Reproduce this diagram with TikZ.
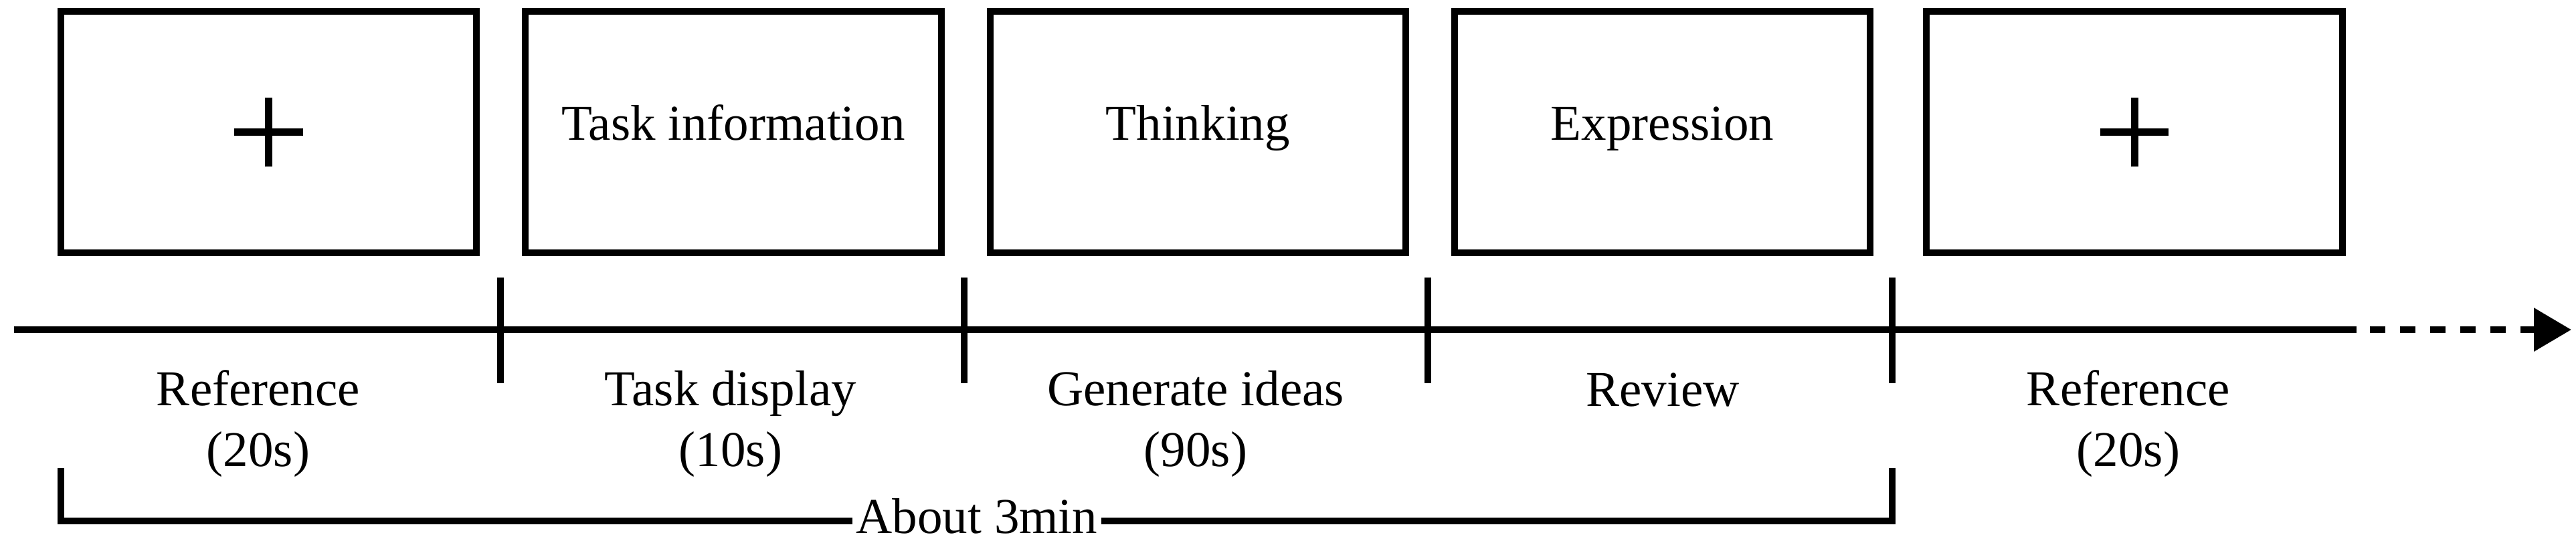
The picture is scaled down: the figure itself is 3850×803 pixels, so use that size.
\documentclass[tikz,border=0pt]{standalone}
\usepackage{fontspec}
\setmainfont{Liberation Serif}
\usetikzlibrary{arrows.meta,positioning}

\begin{document}
\begin{tikzpicture}[x=0.01cm,y=-0.01cm,line width=1mm,
  font=\fontsize{21.34}{25.6}\selectfont,
  screen/.style={draw,rectangle,minimum width=6.21cm,minimum height=3.61cm,inner sep=0pt,text height=0.68em,text depth=0pt},
  stage/.style={align=center,anchor=base}]
	  \useasboundingbox (0,0) rectangle (3850,803);
	  % screens
	  \node[screen] (ref1) at (401.5,197.5) {};
	  \node[screen] (task) [right=0.63cm of ref1] {Task information};
	  \node[screen] (think) [right=0.63cm of task] {Thinking};
	  \node[screen] (expr) [right=0.63cm of think] {Expression};
	  \node[screen] (ref2) [right=0.74cm of expr] {};
	  \foreach \b in {ref1,ref2}
	    \draw[line width=1.1mm] ([xshift=-0.51cm]\b.center) -- ([xshift=0.51cm]\b.center)
	      ([yshift=-0.51cm]\b.center) -- ([yshift=0.51cm]\b.center);
	  % time line
	  \coordinate (start) at (21,493);
	  \coordinate (solid) at (3522,493);
	  \coordinate (dash) at (3542,493);
	  \coordinate (tip) at (3843,493);
	  \draw (start) -- (solid);
	  \draw[dash pattern=on 0.23cm off 0.22cm,-{Triangle[length=0.56cm,width=0.63cm]}] (dash) -- (tip);
	  \foreach \x in {748,1441,2134,2828}
	    \draw (\x,415) -- (\x,573);
	  % stages (base = last line)
	  \node[stage] (s1) at (386,697) {Reference\\(20s)};
	  \node[stage] (s2) at (1092,697) {Task display\\(10s)};
	  \node[stage] (s3) at (1787,697) {Generate ideas\\(90s)};
	  \node[stage] (s4) at (2485,607) {Review};
	  \node[stage] (s5) at (3181,697) {Reference\\(20s)};
	  % span
	  \coordinate (bl) at (91,700);
	  \coordinate (br) at (2828,700);
	  \draw (bl) -- ++(0,79) -| (br);
	  \node[fill=white,inner xsep=0.06cm,inner ysep=0pt,text depth=0pt,anchor=base] (span) at (1460,797) {About 3min};
	\end{tikzpicture}
\end{document}
